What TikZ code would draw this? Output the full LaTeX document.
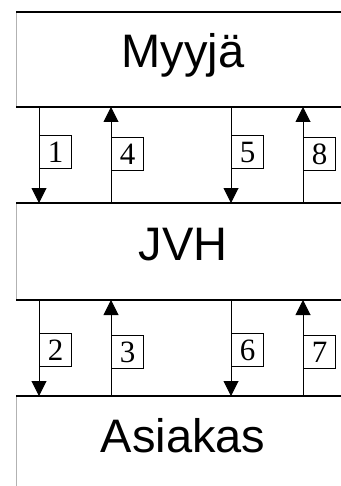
\documentclass[tikz,border=0pt]{standalone}
\usepackage{fontspec}
\setmainfont{Liberation Serif}
\newfontfamily\bandfont{Liberation Sans}
\usetikzlibrary{arrows.meta}
\tikzset{
  rule/.style={line width=2pt},
  side/.style={black!30, line width=1pt},
  flow/.style={line width=1pt, -{Triangle[length=15pt,width=15pt]}},
  tag/.style={draw, line width=1.2pt, fill=white, minimum width=32pt,
    minimum height=33pt, inner sep=0pt, anchor=north west,
    font=\fontsize{31}{31}\selectfont},
  party/.style={anchor=base, inner sep=0pt,
    font=\bandfont\fontsize{47}{47}\selectfont},
}
\begin{document}
\begin{tikzpicture}[x=1pt,y=-1pt]
        \useasboundingbox (0,0) rectangle (340,486);

        % Band edges
        \coordinate (m1) at (16,12);  \coordinate (m2) at (16,107);
        \coordinate (j1) at (16,203); \coordinate (j2) at (16,300);
        \coordinate (a1) at (16,396); \coordinate (a2) at (16,486);

        % Left sides of the bands
        \draw[side] (m1) -- (m2);
        \draw[side] (j1) -- (j2);
        \draw[side] (a1) -- (a2);

        % Top and bottom lines
        \foreach \c in {m1,m2,j1,j2,a1}
            \draw[rule] (\c) -- (\c -| 345,0);

        % Band names
        \node[party] (myyja) at (183,68) {Myyjä};
        \node[party] (jvh) at (183,260) {JVH};
        \node[party] (asiakas) at (183,452) {Asiakas};

        % Arrows between Myyjä and JVH
        \foreach \x in {39,231}
            \draw[flow] (\x,0 |- m2) -- (\x,0 |- j1);
        \foreach \x in {111,303}
            \draw[flow] (\x,0 |- j1) -- (\x,0 |- m2);

        % Arrows between JVH and Asiakas
        \foreach \x in {39,231}
            \draw[flow] (\x,0 |- j2) -- (\x,0 |- a1);
        \foreach \x in {111,303}
            \draw[flow] (\x,0 |- a1) -- (\x,0 |- j2);

        % Step numbers
        \node[tag] (t1) at (39,135) {1};
        \node[tag] (t4) at (111,137) {4};
        \node[tag] (t5) at (231,135) {5};
        \node[tag] (t8) at (303,137) {8};
        \node[tag] (t2) at (39,333) {2};
        \node[tag] (t3) at (111,335) {3};
        \node[tag] (t6) at (231,333) {6};
        \node[tag] (t7) at (303,335) {7};

\end{tikzpicture}
\end{document}
